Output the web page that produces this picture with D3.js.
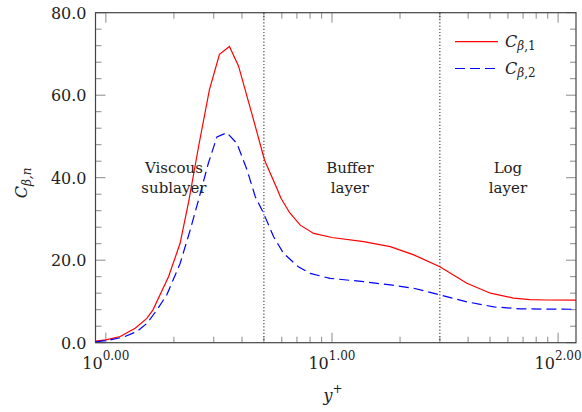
<!DOCTYPE html>
<html><head><meta charset="utf-8">
<script src="https://cdn.jsdelivr.net/npm/d3@7"></script>
<style>body{margin:0;background:#fff}svg{display:block}text{font-family:"DejaVu Serif",serif;fill:#222}</style>
</head><body>
<svg id="c" width="582" height="412"></svg>
<script>
const redX = [0.9, 1.0, 1.157, 1.348, 1.518, 1.614, 1.893, 2.13, 2.33, 2.57, 2.87, 3.18, 3.52, 3.86, 4.5, 5.03, 5.71, 5.95, 6.5, 7.24, 8.3, 10, 13.8, 18.1, 23, 30, 39.5, 50.2, 63.5, 75, 89.3, 120];
const redY = [0.4, 0.7, 1.5, 3.5, 5.9, 7.9, 16, 24.1, 34.5, 47.5, 61.3, 69.9, 71.8, 67.1, 54, 44.3, 37.4, 35.0, 31.5, 28.5, 26.5, 25.5, 24.5, 23.3, 21.3, 18.4, 14.4, 12.0, 10.8, 10.45, 10.35, 10.3];
const blueX = [0.9, 1.04, 1.2, 1.37, 1.52, 1.68, 1.86, 2.13, 2.36, 2.57, 2.84, 3.1, 3.43, 3.8, 4.21, 4.58, 4.98, 5.52, 6.1, 7.1, 8.0, 9.8, 13.8, 18.1, 23, 30, 39.5, 51.9, 68, 120];
const blueY = [0.2, 0.65, 1.4, 2.7, 4.7, 7.9, 11.6, 19.2, 27.3, 34.6, 43.5, 49.9, 50.9, 48.3, 41.9, 35.4, 31.4, 25.7, 21.7, 18.4, 16.8, 15.6, 14.8, 14.0, 13.2, 11.6, 9.9, 8.7, 8.2, 8.1];
const yMajor = [0, 20, 40, 60, 80];
const yMajorLabels = ["0.0", "20.0", "40.0", "60.0", "80.0"];
const xMajor = [1, 10, 100];
const xMajorExp = ["0.00", "1.00", "2.00"];
const regionBounds = [5, 30];
const regions = [
  {x: 2.0, lines: ["Viscous", "sublayer"]},
  {x: 12.0, lines: ["Buffer", "layer"]},
  {x: 60, lines: ["Log", "layer"]}
];
const seriesNames = ["1", "2"];

const L = 95.5, R = 576, T = 12.7, B = 342.7;
const svg = d3.select("#c");
const x = d3.scaleLog().domain([0.9, 120]).range([L, R]);
const y = d3.scaleLinear().domain([0, 80]).range([B, T]);

// minor ticks
const xMinor = [];
for (let k = 0; k <= 2; k++) for (let m = 1; m <= 9; m++) { const v = m * Math.pow(10, k); if (v >= 0.9 && v <= 120 && m !== 1) xMinor.push(v); }
const yMinor = d3.range(0, 81, 4).filter(v => v % 20 !== 0);
const tickCol = "#8a8a8a";
const g = svg.append("g");
function vt(v, len) {
  g.append("line").attr("x1", x(v)).attr("x2", x(v)).attr("y1", B).attr("y2", B - len).attr("stroke", tickCol).attr("stroke-width", 1);
  g.append("line").attr("x1", x(v)).attr("x2", x(v)).attr("y1", T).attr("y2", T + len).attr("stroke", tickCol).attr("stroke-width", 1);
}
function ht(v, len) {
  g.append("line").attr("y1", y(v)).attr("y2", y(v)).attr("x1", L).attr("x2", L + len).attr("stroke", tickCol).attr("stroke-width", 1);
  g.append("line").attr("y1", y(v)).attr("y2", y(v)).attr("x1", R).attr("x2", R - len).attr("stroke", tickCol).attr("stroke-width", 1);
}
xMinor.forEach(v => vt(v, 6));
xMajor.forEach(v => vt(v, 10));
yMinor.forEach(v => ht(v, 6));
yMajor.forEach(v => ht(v, 10));

// region boundaries
regionBounds.forEach(v => {
  svg.append("line").attr("x1", x(v)).attr("x2", x(v)).attr("y1", T).attr("y2", B)
    .attr("stroke", "#333").attr("stroke-width", 1.1).attr("stroke-dasharray", "1.2,2");
});

// lines
const line = d3.line().x(d => x(d[0])).y(d => y(d[1]));
svg.append("path").datum(redX.map((v, i) => [v, redY[i]])).attr("d", line)
  .attr("fill", "none").attr("stroke", "#ff0000").attr("stroke-width", 1.2);
svg.append("path").datum(blueX.map((v, i) => [v, blueY[i]])).attr("d", line)
  .attr("fill", "none").attr("stroke", "#0000ff").attr("stroke-width", 1.2).attr("stroke-dasharray", "10,5");

// frame
svg.append("rect").attr("x", L).attr("y", T).attr("width", R - L).attr("height", B - T)
  .attr("fill", "none").attr("stroke", "#444").attr("stroke-width", 1.2);

// y labels
yMajor.forEach((v, i) => {
  svg.append("text").attr("x", L - 9).attr("y", y(v) + 6).attr("text-anchor", "end")
    .attr("font-size", 16).text(yMajorLabels[i]);
});
// x labels
xMajor.forEach((v, i) => {
  const t = svg.append("text").attr("x", x(v)).attr("y", 369).attr("text-anchor", "middle").attr("font-size", 16);
  t.append("tspan").text("10");
  t.append("tspan").attr("dy", -9).attr("font-size", 12).text(xMajorExp[i]);
});

// axis titles
const xt = svg.append("text").attr("x", 333).attr("y", 401).attr("text-anchor", "middle").attr("font-size", 16);
xt.append("tspan").attr("font-style", "italic").text("y");
xt.append("tspan").attr("dy", -8).attr("font-size", 12).text("+");

const yt = svg.append("text").attr("transform", "translate(27,183) rotate(-90)").attr("text-anchor", "middle").attr("font-size", 16);
yt.append("tspan").attr("font-style", "italic").text("C");
yt.append("tspan").attr("dy", 4).attr("font-size", 12).attr("font-style", "italic").text("β,n");

// region labels
regions.forEach(r => {
  r.lines.forEach((s, j) => {
    svg.append("text").attr("x", x(r.x)).attr("y", 173 + j * 20).attr("text-anchor", "middle")
      .attr("font-size", 15).text(s);
  });
});

// legend
const leg = [{c: "#ff0000", d: null, yy: 41.7}, {c: "#0000ff", d: "10,5", yy: 68.5}];
leg.forEach((l, i) => {
  svg.append("line").attr("x1", 455).attr("x2", 498).attr("y1", l.yy).attr("y2", l.yy)
    .attr("stroke", l.c).attr("stroke-width", 1.2).attr("stroke-dasharray", l.d);
  const t = svg.append("text").attr("x", 505).attr("y", l.yy + 5.5).attr("font-size", 16);
  t.append("tspan").attr("font-style", "italic").text("C");
  t.append("tspan").attr("dy", 3).attr("font-size", 12).attr("font-style", "italic").text("β");
  t.append("tspan").attr("font-size", 12).text("," + seriesNames[i]);
});
</script>
</body></html>
